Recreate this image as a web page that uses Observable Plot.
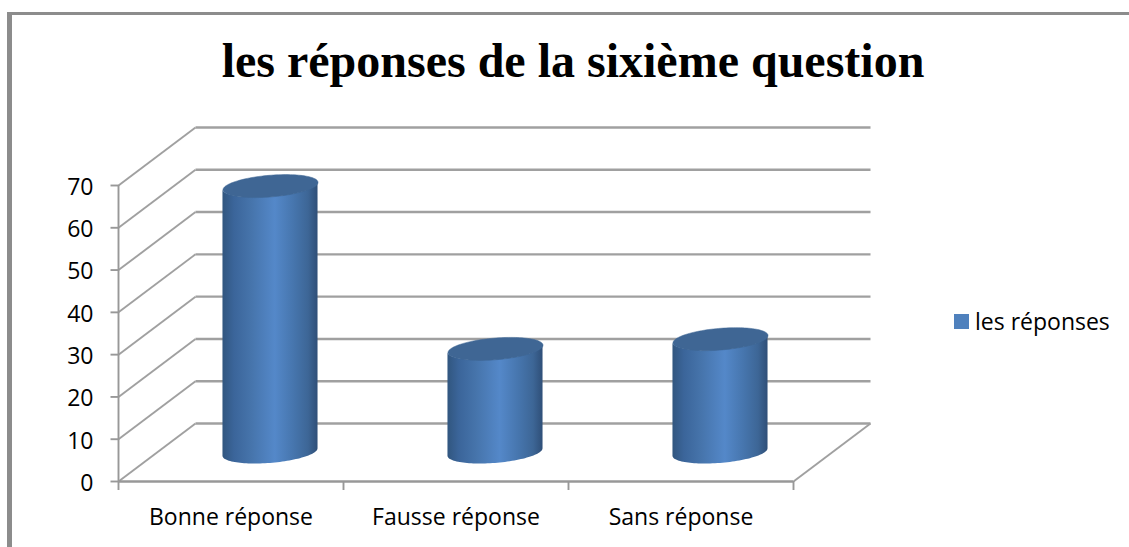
<!DOCTYPE html>
<html><head><meta charset="utf-8">
<script src="https://cdn.jsdelivr.net/npm/d3@7"></script>
<script src="https://cdn.jsdelivr.net/npm/@observablehq/plot@0.6"></script>
<style>
html,body{margin:0;padding:0;background:#fff;overflow:hidden}
#frame{position:absolute;left:7px;top:12px;width:1122px;height:535px;border-top:3px solid #8c8c8c;border-left:5px solid #8c8c8c;box-sizing:border-box}
#title{position:absolute;left:0;width:1122px;text-align:center;font:bold 48px "Liberation Serif",serif;color:#000;top:18px;box-sizing:border-box;white-space:nowrap}
#chart{position:absolute;left:0;top:97px}
#legend{position:absolute;left:942px;top:290px;display:flex;align-items:center;font:23px "Open Sans",sans-serif;color:#000;white-space:nowrap}
#legend i{display:block;width:15px;height:15px;background:#4f81bd;margin-right:6px}
</style></head><body>
<div id="frame">
<div id="title">les réponses de la sixième question</div>
<div id="chart"></div>
<div id="legend"><i></i><span>les réponses</span></div>
</div>
<script>
const categories = ["Bonne réponse", "Fausse réponse", "Sans réponse"];
const values = [63, 24.5, 26.8];
const yTicks = [0, 10, 20, 30, 40, 50, 60, 70];

const W = 1117, H = 437;
const mLeft = 106, mRight = 781, mBottom = 369, mTop = 73;
const pxX = (mRight - mLeft) / 3, pxY = (mBottom - mTop) / 70;
const depthX = 77 / pxX, depthY = 58 / pxY;

// Cylinder cross-section, sitting midway in the chart's depth
const a = 45 / pxX, b = 15.3 / pxX, c = 11.5 / pxY;
const thetas = d3.range(0, 121).map(i => i / 120 * 2 * Math.PI);
const centre = i => i + 0.5 + (depthX + 2 / pxX) / 2;
const base = depthY / 2;
const ell = (i, v, t) => ({
  i,
  x: centre(i) + a * Math.cos(t) + b * Math.sin(t),
  y: v + base + c * Math.sin(t)
});
const caps = values.flatMap((v, i) => thetas.map(t => ell(i, v, t)));
const tl = Math.PI + Math.atan2(b, a), tr = Math.atan2(b, a);
// Body: from the left to the right extreme, front side of the cylinder
const body = values.flatMap((v, i) => d3.range(0, 61).map(k => {
  const t = tl + (k / 60) * (2 * Math.PI + tr - tl);
  const low = ell(i, 0, t), up = ell(i, v, t);
  return {i, x: low.x, y1: low.y, y2: up.y};
}));

const gradient = () => {
  const ns = "http://www.w3.org/2000/svg";
  const defs = document.createElementNS(ns, "defs");
  const g = document.createElementNS(ns, "linearGradient");
  g.setAttribute("id", "cyl");
  [[0, "#31567f"], [0.12, "#3b659a"], [0.3, "#4674ab"], [0.55, "#5488c9"], [0.75, "#4675ad"], [0.9, "#3d6696"], [1, "#2f4f78"]]
    .forEach(([o, col]) => {
      const s = document.createElementNS(ns, "stop");
      s.setAttribute("offset", o);
      s.setAttribute("stop-color", col);
      g.appendChild(s);
    });
  defs.appendChild(g);
  return defs;
};

const grey = "#a0a0a0", dark = "#989898";
const plot = Plot.plot({
  width: W, height: H,
  marginLeft: mLeft, marginRight: W - mRight, marginTop: mTop, marginBottom: H - mBottom,
  style: {background: "transparent", overflow: "visible"},
  x: {domain: [0, 3], range: [mLeft, mRight]},
  y: {domain: [0, 70], range: [mBottom, mTop]},
  marks: [
    gradient,
    Plot.link(yTicks, {
      x1: () => depthX, x2: () => 3 + depthX, y1: t => t + depthY, y2: t => t + depthY,
      stroke: grey, strokeWidth: 2.4
    }),
    Plot.link(yTicks, {
      x1: () => 0, x2: () => depthX, y1: t => t, y2: t => t + depthY,
      stroke: grey, strokeWidth: 1.9
    }),
    Plot.link([0], {x1: () => 3, x2: () => 3 + depthX, y1: () => 0, y2: () => depthY, stroke: grey, strokeWidth: 1.9}),
    Plot.ruleX([0], {y1: 0, y2: 70, stroke: dark, strokeWidth: 1.9}),
    Plot.ruleY([0], {x1: 0, x2: 3, stroke: dark, strokeWidth: 2.4}),
    Plot.link(yTicks, {x1: () => -8 / pxX, x2: () => 0, y1: t => t, y2: t => t, stroke: dark, strokeWidth: 1.9}),
    Plot.axisY(yTicks, {
      anchor: "left", label: null, tickSize: 0, tickPadding: 25, dy: 2,
      fontSize: 23, fontFamily: "Open Sans", fill: "#000"
    }),
    Plot.axisX([0, 1, 2, 3], {
      anchor: "bottom", label: null, tickSize: 9, tickFormat: () => "",
      stroke: dark, strokeWidth: 1.9, strokeOpacity: 1
    }),
    Plot.axisX([0.5, 1.5, 2.5], {
      anchor: "bottom", label: null, tickSize: 0, tickPadding: 27,
      tickFormat: d => categories[d - 0.5],
      fontSize: 23, fontFamily: "Open Sans", fill: "#000"
    }),
    Plot.areaY(body, {x: "x", y1: "y1", y2: "y2", z: "i", fill: "url(#cyl)", curve: "linear"}),
    Plot.line(caps, {x: "x", y: "y", z: "i", fill: "#3f6694", stroke: "#3f6694", strokeWidth: 0.5, curve: "linear"})
  ]
});
document.getElementById("chart").appendChild(plot);
</script>
</body></html>
